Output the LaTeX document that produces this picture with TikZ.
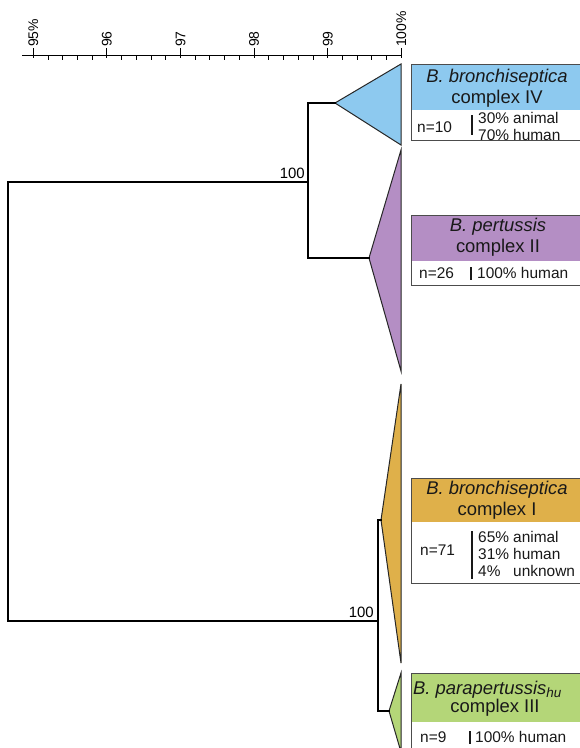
\documentclass[tikz,border=0pt]{standalone}
\usepackage{fontspec}
\setmainfont{Liberation Sans}
\definecolor{cblue}{RGB}{141,201,239}
\definecolor{cpurple}{RGB}{180,142,196}
\definecolor{corange}{RGB}{223,176,74}
\definecolor{cgreen}{RGB}{180,214,120}
\begin{document}
\begin{tikzpicture}[x=1bp,y=-1bp,
  branch/.style={line width=1.3bp, black, line cap=rect},
  clade/.style={draw=black!85, line width=1bp, line join=miter},
  hdrtext/.style={font=\fontsize{18.5}{21}\selectfont, align=center, inner sep=0, text=black!90},
  bodytext/.style={font=\fontsize{15.5}{16}\selectfont, inner sep=0, anchor=west, text=black!90},
  panel/.style={draw=black!70, line width=0.9bp},
  sepbar/.style={line width=2.2bp, black!90},
  ticklabel/.style={font=\fontsize{14}{14}\selectfont, rotate=90, anchor=west, inner sep=0},
  support/.style={font=\fontsize{15}{15}\selectfont, inner sep=0, anchor=base east}
]
\useasboundingbox (0,0) rectangle (580,748);
\clip (0,0) rectangle (580,748);
\fill[white] (0,0) rectangle (580,748);

% ---- similarity scale ----
\coordinate (axL) at (22,56);
\coordinate (axR) at (402,56);
\draw[line width=1bp] (axL) -- (axR);
\foreach \i/\lab in {0/95\%,1/96,2/97,3/98,4/99,5/100\%}{
  \pgfmathsetmacro{\xx}{33.3+73.6*\i}
  \draw[line width=1bp] (\xx,58) -- (\xx,48);
  \node[ticklabel] (tl\i) at (\xx,47) {\lab};
}
\foreach \j in {1,...,24}{
  \pgfmathtruncatemacro{\m}{mod(\j,5)}
  \ifnum\m>0
    \pgfmathsetmacro{\xx}{33.3+14.72*\j}
    \draw[line width=0.9bp] (\xx,56) -- (\xx,60);
  \fi
}

% ---- tree nodes ----
\coordinate (rootT) at (8,182);
\coordinate (rootB) at (8,621);
\coordinate (nA) at (308,182);
\coordinate (nAt) at (308,103);
\coordinate (nAb) at (308,258);
\coordinate (nB) at (378,621);
\coordinate (nBt) at (378,520);
\coordinate (nBb) at (378,711);

% clade apexes and edges
\coordinate (c4) at (335,103);  \coordinate (c4t) at (401,64);  \coordinate (c4b) at (401,145);
\coordinate (c2) at (369,258);  \coordinate (c2t) at (401,150); \coordinate (c2b) at (401,371);
\coordinate (c1) at (381,520);  \coordinate (c1t) at (401,384); \coordinate (c1b) at (401,663);
\coordinate (c3) at (389,711);  \coordinate (c3t) at (401,673); \coordinate (c3b) at (401,752);

% collapsed clades
\filldraw[clade, fill=cblue]   (c4) -- (c4t) -- (c4b) -- cycle;
\filldraw[clade, fill=cpurple] (c2) -- (c2t) -- (c2b) -- cycle;
\filldraw[clade, fill=corange] (c1) -- (c1t) -- (c1b) -- cycle;
\filldraw[clade, fill=cgreen]  (c3) -- (c3t) -- (c3b) -- cycle;

% branches
\draw[branch] (nA) -- (rootT) -- (rootB) -- (nB);
\draw[branch] (c4) -- (nAt) -- (nAb) -- (c2);
\draw[branch] (c1) -- (nBt) -- (nBb) -- (c3);

% bootstrap values
\node[support] (bsA) at (305,178) {100};
\node[support] (bsB) at (374,617) {100};

% ---- complex IV ----
\fill[cblue] (411,64) rectangle (584,110);
\draw[panel] (411,64) rectangle (584,140);
\node[hdrtext] (h4) at (497,88.5) {\textit{B. bronchiseptica}\\complex IV};
\node[bodytext] (n4) at (417,127) {n=10};
\draw[sepbar] (472,115) -- (472,135);
\node[bodytext] (p4a) at (478,118) {\makebox[35bp][l]{30\%}animal};
\node[bodytext] (p4b) at (478,135) {\makebox[35bp][l]{70\%}human};

% ---- complex II ----
\fill[cpurple] (411,215) rectangle (584,261);
\draw[panel] (411,215) rectangle (584,285);
\node[hdrtext] (h2) at (498,237.5) {\textit{B. pertussis}\\complex II};
\node[bodytext] (n2) at (419,273) {n=26};
\draw[sepbar] (471,267) -- (471,280);
\node[bodytext] (p2) at (477,273) {100\% human};

% ---- complex I ----
\fill[corange] (411,478) rectangle (584,522);
\draw[panel] (411,478) rectangle (584,583);
\node[hdrtext] (h1) at (497,500) {\textit{B. bronchiseptica}\\complex I};
\node[bodytext] (n1) at (420,550) {n=71};
\draw[sepbar] (472,531) -- (472,579);
\node[bodytext] (p1a) at (478,537) {\makebox[35bp][l]{65\%}animal};
\node[bodytext] (p1b) at (478,554) {\makebox[35bp][l]{31\%}human};
\node[bodytext] (p1c) at (478,571) {\makebox[35bp][l]{4\%}unknown};

% ---- complex III ----
\fill[cgreen] (411,673) rectangle (584,722);
\draw[panel] (411,673) rectangle (584,760);
\node[hdrtext, anchor=base west] (h3a) at (413,694) {\textit{B. parapertussis}\raisebox{-0.4ex}{\fontsize{13.5}{13.5}\selectfont\itshape hu}};
\node[hdrtext] (h3b) at (495,708) {complex III};
\node[bodytext] (n3) at (420,737) {n=9};
\draw[sepbar] (470,731) -- (470,744);
\node[bodytext] (p3) at (475,737) {100\% human};
\end{tikzpicture}
\end{document}
